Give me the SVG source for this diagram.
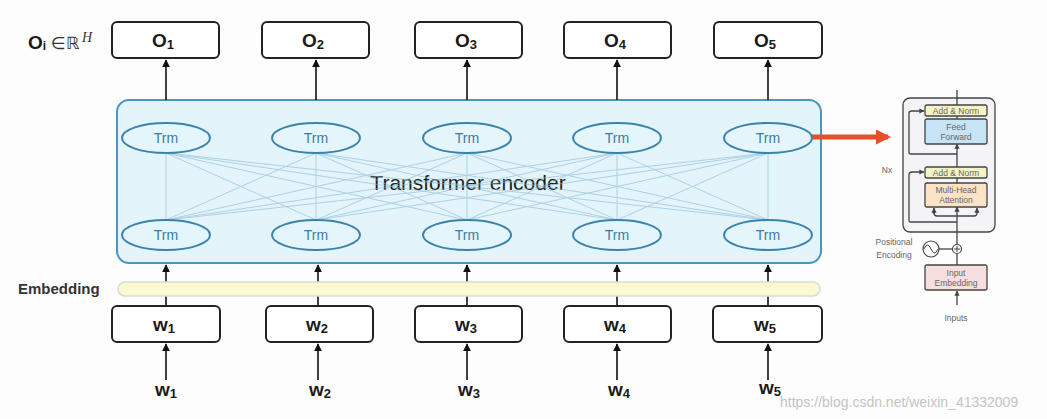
<svg xmlns="http://www.w3.org/2000/svg" width="1047" height="419" viewBox="0 0 1047 419">
<defs>
<marker id="ah" viewBox="0 0 10 10" refX="9" refY="5" markerWidth="5" markerHeight="5" orient="auto"><path d="M0,0 L10,5 L0,10 z" fill="#111"/></marker>
<marker id="ahs" viewBox="0 0 10 10" refX="9" refY="5" markerWidth="4" markerHeight="4" orient="auto"><path d="M0,0 L10,5 L0,10 z" fill="#444"/></marker>
<marker id="ahr" viewBox="0 0 10 10" refX="8" refY="5" markerWidth="3" markerHeight="3" orient="auto"><path d="M0,0 L10,5 L0,10 z" fill="#e4502a"/></marker>
</defs>
<style>
.box{fill:#fff;stroke:#222;stroke-width:2}
.lbl{font-family:"Liberation Sans",Arial,sans-serif;font-weight:bold;font-size:19px;fill:#1a1a1a;text-anchor:middle}
.sub{font-size:13px}
.trm{fill:#e4f5fc;stroke:#3b83ad;stroke-width:2}
.trmt{font-family:"Liberation Sans",Arial,sans-serif;font-size:14px;fill:#3b7ca6;text-anchor:middle}
.arr{stroke:#111;stroke-width:1.6;fill:none;marker-end:url(#ah)}
.mesh{stroke:#8abbd8;stroke-width:1;opacity:0.6}
.sm{font-family:"Liberation Sans",Arial,sans-serif;font-size:8.5px;fill:#666;text-anchor:middle}
.mini{stroke:#444;stroke-width:1.3;fill:none}
</style>
<rect width="1047" height="419" fill="#fdfdfd"/>

<!-- Container -->
<g id="encoder">
<rect x="117" y="100" width="704" height="163" rx="12" fill="#e3f4fb" stroke="#4a96c2" stroke-width="2"/>
<text x="468" y="190" font-family="Liberation Sans,Arial,sans-serif" font-size="21" fill="#1e1e1e" text-anchor="middle">Transformer encoder</text>
</g>

<g id="connectors">
<g class="mesh">
<line x1="166" y1="153" x2="166" y2="220"/><line x1="166" y1="153" x2="316" y2="220"/><line x1="166" y1="153" x2="467" y2="220"/><line x1="166" y1="153" x2="617" y2="220"/><line x1="166" y1="153" x2="768" y2="220"/>
<line x1="316" y1="153" x2="166" y2="220"/><line x1="316" y1="153" x2="316" y2="220"/><line x1="316" y1="153" x2="467" y2="220"/><line x1="316" y1="153" x2="617" y2="220"/><line x1="316" y1="153" x2="768" y2="220"/>
<line x1="467" y1="153" x2="166" y2="220"/><line x1="467" y1="153" x2="316" y2="220"/><line x1="467" y1="153" x2="467" y2="220"/><line x1="467" y1="153" x2="617" y2="220"/><line x1="467" y1="153" x2="768" y2="220"/>
<line x1="617" y1="153" x2="166" y2="220"/><line x1="617" y1="153" x2="316" y2="220"/><line x1="617" y1="153" x2="467" y2="220"/><line x1="617" y1="153" x2="617" y2="220"/><line x1="617" y1="153" x2="768" y2="220"/>
<line x1="768" y1="153" x2="166" y2="220"/><line x1="768" y1="153" x2="316" y2="220"/><line x1="768" y1="153" x2="467" y2="220"/><line x1="768" y1="153" x2="617" y2="220"/><line x1="768" y1="153" x2="768" y2="220"/>
</g>
<!-- output arrows -->
<line class="arr" x1="166" y1="100" x2="166" y2="60"/>
<line class="arr" x1="316" y1="100" x2="316" y2="60"/>
<line class="arr" x1="467" y1="100" x2="467" y2="60"/>
<line class="arr" x1="617" y1="100" x2="617" y2="60"/>
<line class="arr" x1="768" y1="100" x2="768" y2="60"/>
<!-- embedding to encoder arrows -->
<line class="arr" x1="166" y1="306" x2="166" y2="265"/>
<line class="arr" x1="318" y1="306" x2="318" y2="265"/>
<line class="arr" x1="467" y1="306" x2="467" y2="265"/>
<line class="arr" x1="617" y1="306" x2="617" y2="265"/>
<line class="arr" x1="768" y1="306" x2="768" y2="265"/>
<!-- input arrows -->
<line class="arr" x1="166" y1="380" x2="166" y2="344"/>
<line class="arr" x1="318" y1="380" x2="318" y2="344"/>
<line class="arr" x1="467" y1="380" x2="467" y2="344"/>
<line class="arr" x1="617" y1="380" x2="617" y2="344"/>
<line class="arr" x1="768" y1="380" x2="768" y2="344"/>
<!-- red arrow -->
<line x1="806" y1="137" x2="888" y2="137" stroke="#e4502a" stroke-width="5" marker-end="url(#ahr)"/>
</g>

<!-- Trm nodes -->
<g id="trm-top-1"><ellipse class="trm" cx="166" cy="138" rx="44" ry="15"/><text class="trmt" x="166" y="143">Trm</text></g>
<g id="trm-top-2"><ellipse class="trm" cx="316" cy="138" rx="44" ry="15"/><text class="trmt" x="316" y="143">Trm</text></g>
<g id="trm-top-3"><ellipse class="trm" cx="467" cy="138" rx="44" ry="15"/><text class="trmt" x="467" y="143">Trm</text></g>
<g id="trm-top-4"><ellipse class="trm" cx="617" cy="138" rx="44" ry="15"/><text class="trmt" x="617" y="143">Trm</text></g>
<g id="trm-top-5"><ellipse class="trm" cx="768" cy="138" rx="44" ry="15"/><text class="trmt" x="768" y="143">Trm</text></g>
<g id="trm-bot-1"><ellipse class="trm" cx="166" cy="235" rx="44" ry="15"/><text class="trmt" x="166" y="240">Trm</text></g>
<g id="trm-bot-2"><ellipse class="trm" cx="316" cy="235" rx="44" ry="15"/><text class="trmt" x="316" y="240">Trm</text></g>
<g id="trm-bot-3"><ellipse class="trm" cx="467" cy="235" rx="44" ry="15"/><text class="trmt" x="467" y="240">Trm</text></g>
<g id="trm-bot-4"><ellipse class="trm" cx="617" cy="235" rx="44" ry="15"/><text class="trmt" x="617" y="240">Trm</text></g>
<g id="trm-bot-5"><ellipse class="trm" cx="768" cy="235" rx="44" ry="15"/><text class="trmt" x="768" y="240">Trm</text></g>

<!-- Output nodes -->
<g id="o-label"><text x="28" y="49" font-family="Liberation Sans,Arial,sans-serif" font-size="19" font-weight="bold" fill="#1a1a1a">O<tspan font-size="12" dy="1">i</tspan></text><text x="51" y="49" font-family="DejaVu Sans,sans-serif" font-size="17" fill="#333">∈ℝ</text><text x="82" y="42" font-family="Liberation Serif,serif" font-style="italic" font-size="14" fill="#333">H</text></g>
<g id="o1"><rect class="box" x="112" y="22" width="107" height="36" rx="5"/><text class="lbl" x="163" y="47">O<tspan class="sub" dy="2">1</tspan></text></g>
<g id="o2"><rect class="box" x="262" y="22" width="107" height="36" rx="5"/><text class="lbl" x="313" y="47">O<tspan class="sub" dy="2">2</tspan></text></g>
<g id="o3"><rect class="box" x="415" y="22" width="107" height="36" rx="5"/><text class="lbl" x="466" y="47">O<tspan class="sub" dy="2">3</tspan></text></g>
<g id="o4"><rect class="box" x="564" y="22" width="107" height="36" rx="5"/><text class="lbl" x="615" y="47">O<tspan class="sub" dy="2">4</tspan></text></g>
<g id="o5"><rect class="box" x="714" y="22" width="108" height="36" rx="5"/><text class="lbl" x="765" y="47">O<tspan class="sub" dy="2">5</tspan></text></g>

<!-- Embedding -->
<g id="embedding">
<text x="18" y="294" font-family="Liberation Sans,Arial,sans-serif" font-size="15" font-weight="bold" fill="#333">Embedding</text>
<rect x="118" y="282" width="702" height="14" rx="7" fill="#fbf9d2" stroke="#d6ddd6" stroke-width="1.5"/>
</g>

<!-- Word boxes -->
<g id="w1"><rect class="box" x="112" y="306" width="108" height="36" rx="5"/><text class="lbl" x="164" y="331">w<tspan class="sub" dy="2">1</tspan></text></g>
<g id="w2"><rect class="box" x="266" y="306" width="107" height="36" rx="5"/><text class="lbl" x="317" y="331">w<tspan class="sub" dy="2">2</tspan></text></g>
<g id="w3"><rect class="box" x="415" y="306" width="107" height="36" rx="5"/><text class="lbl" x="466" y="331">w<tspan class="sub" dy="2">3</tspan></text></g>
<g id="w4"><rect class="box" x="564" y="306" width="107" height="36" rx="5"/><text class="lbl" x="615" y="331">w<tspan class="sub" dy="2">4</tspan></text></g>
<g id="w5"><rect class="box" x="713" y="306" width="109" height="36" rx="5"/><text class="lbl" x="765" y="331">w<tspan class="sub" dy="2">5</tspan></text></g>

<!-- input words -->
<g id="in1"><text class="lbl" x="166" y="396">w<tspan class="sub" dy="2">1</tspan></text></g>
<g id="in2"><text class="lbl" x="320" y="396">w<tspan class="sub" dy="2">2</tspan></text></g>
<g id="in3"><text class="lbl" x="469" y="396">w<tspan class="sub" dy="2">3</tspan></text></g>
<g id="in4"><text class="lbl" x="619" y="396">w<tspan class="sub" dy="2">4</tspan></text></g>
<g id="in5"><text class="lbl" x="770" y="394">w<tspan class="sub" dy="2">5</tspan></text></g>

<!-- Mini transformer diagram -->
<g id="mini-transformer">
<rect x="903" y="98" width="92" height="134" rx="7" fill="#f4f4f6" stroke="#444" stroke-width="1.3"/>
<line class="mini" x1="957" y1="90" x2="957" y2="105"/>
<line class="mini" x1="957" y1="232" x2="957" y2="207" marker-end="url(#ahs)"/>
<line class="mini" x1="957" y1="305" x2="957" y2="291" marker-end="url(#ahs)"/>
<line class="mini" x1="957" y1="265" x2="957" y2="254"/>
<line class="mini" x1="957" y1="244" x2="957" y2="232"/>
<line class="mini" x1="957" y1="167" x2="957" y2="144" marker-end="url(#ahs)"/>
<line class="mini" x1="957" y1="183" x2="957" y2="178"/>
<line class="mini" x1="957" y1="119" x2="957" y2="116"/>
<path class="mini" d="M957,222 H910 Q909,222 909,220 V175 Q909,172 912,172 H924" marker-end="url(#ahs)"/>
<path class="mini" d="M957,154 H911 Q909,154 909,152 V113 Q909,111 912,111 H924" marker-end="url(#ahs)"/>
<path class="mini" d="M934,208 V213 Q934,216 937,216 H974 Q977,216 977,213 V208" marker-end="url(#ahs)"/>
<line class="mini" x1="934" y1="214" x2="934" y2="208" marker-end="url(#ahs)"/>
<rect x="925" y="105" width="62" height="11" rx="2" fill="#f3f3c6" stroke="#444" stroke-width="1.3"/>
<text class="sm" x="956" y="114">Add &amp; Norm</text>
<rect x="925" y="119" width="62" height="25" rx="2" fill="#c6e4f6" stroke="#444" stroke-width="1.3"/>
<text class="sm" x="956" y="130">Feed</text><text class="sm" x="956" y="140">Forward</text>
<rect x="925" y="167" width="62" height="11" rx="2" fill="#f3f3c6" stroke="#444" stroke-width="1.3"/>
<text class="sm" x="956" y="176">Add &amp; Norm</text>
<rect x="925" y="183" width="62" height="24" rx="2" fill="#fbe3c8" stroke="#444" stroke-width="1.3"/>
<text class="sm" x="956" y="193">Multi-Head</text><text class="sm" x="956" y="203">Attention</text>
<text class="sm" x="887" y="173">Nx</text>
<text class="sm" x="894" y="245">Positional</text>
<text class="sm" x="894" y="258">Encoding</text>
<circle cx="931" cy="249" r="8" fill="#fff" stroke="#444" stroke-width="1.2"/>
<path d="M924,249 Q927.5,241 931,249 T938,249" fill="none" stroke="#444" stroke-width="1"/>
<line class="mini" x1="939" y1="249" x2="952" y2="249"/>
<circle cx="957" cy="249" r="4.5" fill="#fff" stroke="#444" stroke-width="1.2"/>
<path d="M954,249 H960 M957,246 V252" stroke="#444" stroke-width="1"/>
<rect x="925" y="265" width="62" height="25" rx="2" fill="#f7dfdf" stroke="#444" stroke-width="1.3"/>
<text class="sm" x="956" y="276">Input</text><text class="sm" x="956" y="286">Embedding</text>
<text class="sm" x="956" y="321">Inputs</text>
</g>

<text x="780" y="407" font-family="Liberation Sans,Arial,sans-serif" font-size="14" fill="#c4c4c4">https://blog.csdn.net/weixin_41332009</text>
</svg>
